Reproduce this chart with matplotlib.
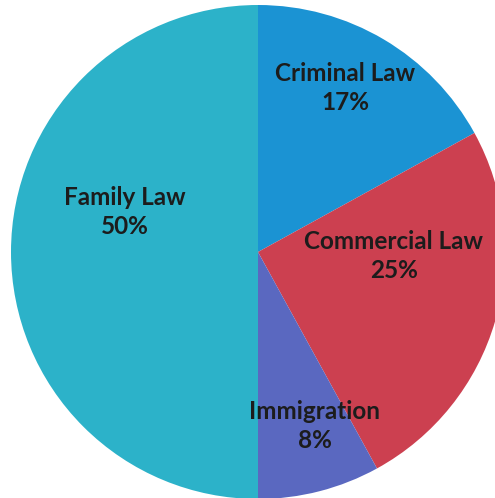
import matplotlib.pyplot as plt

# Dados
areas = ["Criminal Law", "Commercial Law", "Immigration", "Family Law"]
shares = [17, 25, 8, 50]
colors = ["#1b93d3", "#cc4050", "#5a68c0", "#2cb2c9"]
# label positions (fractions of radius, from pie centre)
label_x = [0.352, 0.55, 0.23, -0.538]
label_y = [0.665, -0.015, -0.705, 0.162]

# Saída
W, H = 495, 498
cx, cy, R = 258, 252, 247
fig = plt.figure(figsize=(W / 100, H / 100), dpi=100)
ax = fig.add_axes([0, 0, 1, 1])
ax.pie(shares, colors=colors, startangle=90, counterclock=False,
       radius=1, wedgeprops=dict(linewidth=0))
ax.set_xlim(-cx / R, (W - cx) / R)
ax.set_ylim(-(H - cy) / R, cy / R)
ax.set_aspect("equal")
ax.axis("off")

for name, s, x, y in zip(areas, shares, label_x, label_y):
    ax.text(x, y, f"{name}\n{s}%", ha="center", va="center",
            fontsize=17.5, fontweight="bold", family="Lato",
            color="#1c1c1c", linespacing=1.3)

fig.savefig("out.png", dpi=100, facecolor="white")
